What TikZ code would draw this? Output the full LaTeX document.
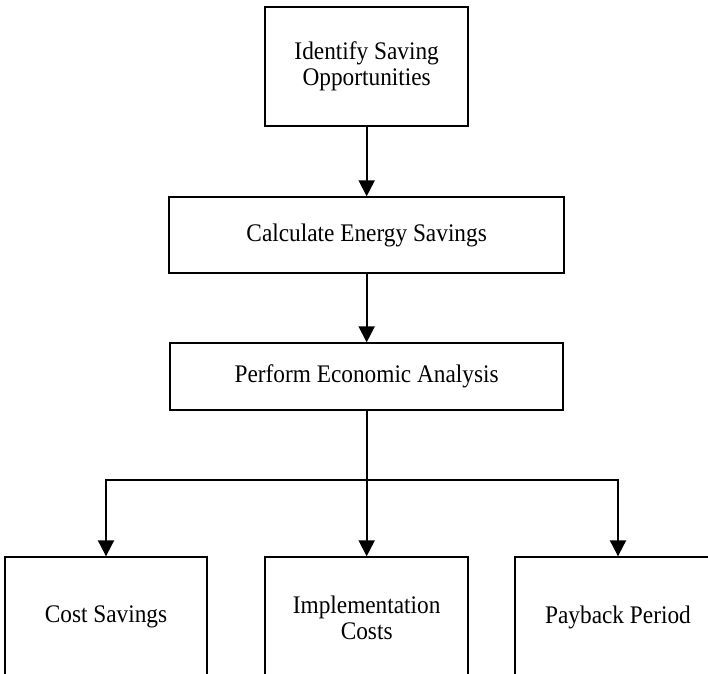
\documentclass[tikz,border=0pt]{standalone}
\usepackage{fontspec}
\setmainfont{Liberation Serif}[FakeStretch=0.92]
\usetikzlibrary{positioning,arrows.meta}

\begin{document}
\begin{tikzpicture}[
  node distance=52pt,
  proc/.style={rectangle, draw=black, line width=1.5pt, inner sep=0pt,
               align=center, font=\fontsize{19}{19.5}\selectfont},
  arr/.style={-{Triangle[width=12pt,length=12pt]}, line width=1.5pt}
]
\clip (0,0) rectangle (531pt,-505.5pt);
\node[proc, minimum width=152pt, minimum height=89pt] (identify) at (275pt,-50pt) {Identify Saving\\Opportunities};
\node[proc, minimum width=296pt, minimum height=57pt, below=of identify] (calculate) {Calculate Energy Savings};
\node[proc, minimum width=295pt, minimum height=50pt, below=51pt of calculate] (perform) {Perform Economic Analysis};
\coordinate[below=52pt of perform.south] (split);
\node[proc, minimum width=152pt, minimum height=90pt, below=109pt of perform] (implement) {Implementation\\Costs};
\node[proc, minimum width=152pt, minimum height=90pt, left=42pt of implement] (cost) {Cost Savings};
\node[proc, minimum width=154pt, minimum height=90pt, right=34pt of implement] (payback) {Payback Period};
\draw[arr] (identify) -- (calculate);
\draw[arr] (calculate) -- (perform);
\draw[line width=1.5pt] (perform) -- (split);
\draw[arr] (split) -- (implement);
\draw[arr] (split) -| (cost);
\draw[arr] (split) -| (payback);
\end{tikzpicture}
\end{document}
